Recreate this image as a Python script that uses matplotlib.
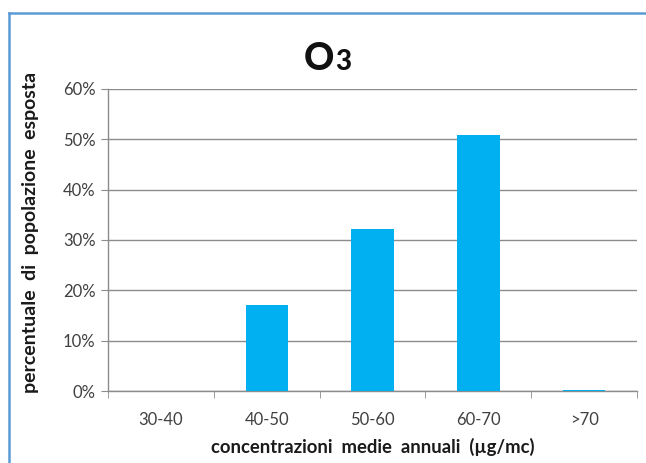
import matplotlib
matplotlib.use("Agg")
import matplotlib.pyplot as plt
from matplotlib.lines import Line2D
from matplotlib.ticker import FuncFormatter

# esposizione della popolazione all'ozono per classe di concentrazione
categories = ["30-40", "40-50", "50-60", "60-70", ">70"]
values = [0.0, 17.0, 32.2, 50.8, 0.2]
yticks = [0, 10, 20, 30, 40, 50, 60]

bar_color = "#00b0f0"
grid_color = "#8c8c8c"
text_color = "#404040"
frame_color = "#5b9bd5"

plt.rcParams["font.family"] = ["Lato", "DejaVu Sans"]

fig = plt.figure(figsize=(6.46, 4.63), dpi=100)
ax = fig.add_axes([0.1672, 0.1555, 0.819, 0.6523])

x = list(range(len(categories)))
ax.bar(x, values, width=0.4, color=bar_color, zorder=3)

ax.set_xlim(-0.5, len(categories) - 0.5)
ax.set_ylim(0, 60)
ax.set_yticks(yticks)
ax.yaxis.set_major_formatter(FuncFormatter(lambda v, p: f"{v:.0f}%"))
ax.grid(axis="y", color=grid_color, linewidth=1.0, zorder=0)

# categorie sulle etichette, tacche ai confini delle classi
ax.set_xticks(x)
ax.set_xticklabels(categories)
ax.set_xticks([i - 0.5 for i in range(len(categories) + 1)], minor=True)
ax.tick_params(axis="x", which="major", length=0, pad=15,
               labelsize=12, labelcolor=text_color)
ax.tick_params(axis="x", which="minor", length=5, color=grid_color)
ax.tick_params(axis="y", length=5, color=grid_color, pad=4,
               labelsize=12, labelcolor=text_color)

for side in ["top", "right"]:
    ax.spines[side].set_visible(False)
for side in ["left", "bottom"]:
    ax.spines[side].set_color(grid_color)
    ax.spines[side].set_linewidth(1.0)

ax.set_xlabel("concentrazioni  medie  annuali  (µg/mc)", fontsize=13.3,
              fontweight="bold", color="#1a1a1a", labelpad=7)
ax.set_ylabel("percentuale  di  popolazione  esposta", fontsize=14,
              fontweight="bold", color="#1a1a1a", labelpad=10)
ax.yaxis.set_label_coords(-0.13, 0.525)

# titolo: O grande con il 3 piu piccolo sulla stessa linea di base
fig.text(0.5175, 0.849, "O", fontsize=27, fontweight=900,
         ha="right", va="baseline", color="#111111")
fig.text(0.5185, 0.849, "3", fontsize=20, fontweight=900,
         ha="left", va="baseline", color="#111111")

# cornice azzurra a sinistra e in alto
fig.add_artist(Line2D([0.0132, 0.0132], [0.0, 0.972], color=frame_color,
                      linewidth=1.8, transform=fig.transFigure))
fig.add_artist(Line2D([0.0132, 1.0], [0.972, 0.972], color=frame_color,
                      linewidth=1.8, transform=fig.transFigure))

fig.savefig("out.png", dpi=100)
